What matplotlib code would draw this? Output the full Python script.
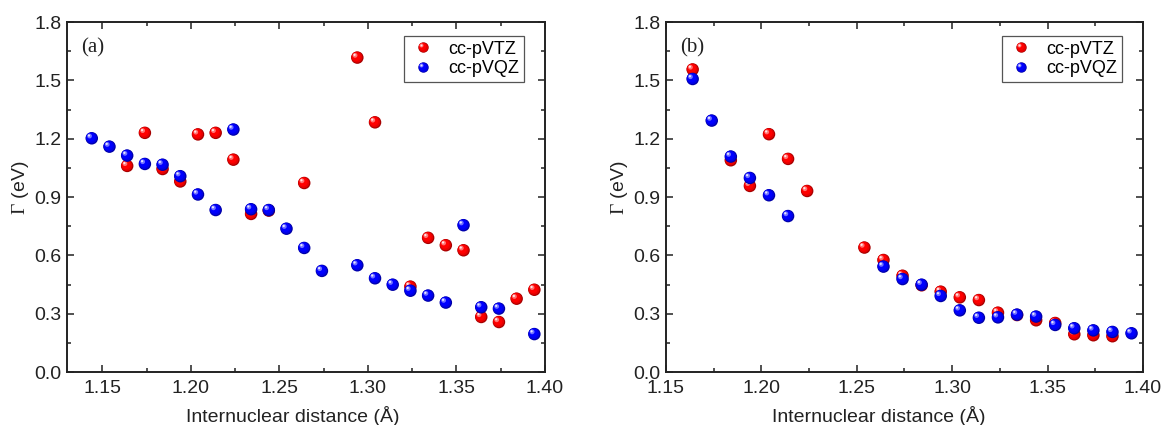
import numpy as np
import matplotlib
matplotlib.use("Agg")
import matplotlib.pyplot as plt
from matplotlib.lines import Line2D
from matplotlib.legend_handler import HandlerBase
from matplotlib.transforms import offset_copy
from matplotlib.ticker import MultipleLocator
import matplotlib.colors as mcolors

plt.rcParams['font.family'] = ['Liberation Sans', 'DejaVu Sans']
plt.rcParams['mathtext.fontset'] = 'custom'
plt.rcParams['mathtext.rm'] = 'Liberation Serif'
plt.rcParams['mathtext.it'] = 'Liberation Serif:italic'

# ---------------- data ----------------
# Panel (a)
a_vtz_x = [1.164, 1.174, 1.184, 1.194, 1.204, 1.214, 1.224, 1.234, 1.244, 1.264,
           1.294, 1.304, 1.324, 1.334, 1.344, 1.354, 1.364, 1.374, 1.384, 1.394]
a_vtz_y = [1.060, 1.230, 1.044, 0.980, 1.222, 1.230, 1.092, 0.813, 0.830, 0.972,
           1.617, 1.284, 0.439, 0.690, 0.652, 0.626, 0.283, 0.257, 0.377, 0.423]
a_vqz_x = [1.144, 1.154, 1.164, 1.174, 1.184, 1.194, 1.204, 1.214, 1.224, 1.234,
           1.244, 1.254, 1.264, 1.274, 1.294, 1.304, 1.314, 1.324, 1.334, 1.344,
           1.354, 1.364, 1.374, 1.394]
a_vqz_y = [1.202, 1.159, 1.113, 1.070, 1.066, 1.007, 0.913, 0.833, 1.247, 0.837,
           0.833, 0.737, 0.638, 0.520, 0.549, 0.482, 0.449, 0.418, 0.393, 0.357,
           0.755, 0.333, 0.326, 0.195]

# Panel (b)
b_vtz_x = [1.164, 1.184, 1.194, 1.204, 1.214, 1.224, 1.254, 1.264, 1.274, 1.284,
           1.294, 1.304, 1.314, 1.324, 1.334, 1.344, 1.354, 1.364, 1.374, 1.384]
b_vtz_y = [1.556, 1.089, 0.957, 1.223, 1.096, 0.931, 0.640, 0.576, 0.495, 0.446,
           0.413, 0.384, 0.370, 0.305, 0.293, 0.266, 0.252, 0.194, 0.189, 0.184]
b_vqz_x = [1.164, 1.174, 1.184, 1.194, 1.204, 1.214, 1.264, 1.274, 1.284, 1.294,
           1.304, 1.314, 1.324, 1.334, 1.344, 1.354, 1.364, 1.374, 1.384, 1.394]
b_vqz_y = [1.507, 1.293, 1.108, 0.998, 0.909, 0.802, 0.542, 0.478, 0.449, 0.391,
           0.317, 0.279, 0.281, 0.295, 0.285, 0.242, 0.225, 0.214, 0.206, 0.199]

series_labels = ['cc-pVTZ', 'cc-pVQZ']
series_colors = ['#ff0000', '#0000ff']
panel_labels = ['(a)', '(b)']
x_ticks = [1.15, 1.20, 1.25, 1.30, 1.35, 1.40]
y_ticks = [0.0, 0.3, 0.6, 0.9, 1.2, 1.5, 1.8]


def mix(c, w, f):
    c = np.array(mcolors.to_rgb(c))
    w = np.array(mcolors.to_rgb(w))
    return tuple(c * (1 - f) + w * f)


# layers: (diameter fraction, offset x pt, offset y pt, colour)
def sphere_layers(color):
    return [
        (1.00, 0.0, 0.0, mix(color, 'black', 0.35)),
        (0.88, -0.3, 0.3, mix(color, 'black', 0.10)),
        (0.70, -0.7, 0.7, color),
        (0.38, -1.6, 1.6, mix(color, 'white', 0.45)),
        (0.18, -2.0, 2.0, mix(color, 'white', 0.9)),
    ]


def sphere_scatter(ax, x, y, color, diam=9.0, zorder=3):
    fig = ax.figure
    for frac, dx, dy, col in sphere_layers(color):
        tr = offset_copy(ax.transData, fig=fig, x=dx * diam / 9.0, y=dy * diam / 9.0, units='points')
        ax.scatter(x, y, s=(diam * frac) ** 2, color=col, edgecolors='none',
                   transform=tr, zorder=zorder, clip_on=True)


class SphereHandler(HandlerBase):
    def __init__(self, color, diam=7.5):
        super().__init__()
        self.color = color
        self.diam = diam

    def create_artists(self, legend, orig_handle, xdescent, ydescent, width, height, fontsize, trans):
        cx = 0.5 * width - xdescent
        cy = 0.5 * height - ydescent
        arts = []
        s = self.diam / 9.0
        for frac, dx, dy, col in sphere_layers(self.color):
            l = Line2D([cx + dx * s], [cy + dy * s], marker='o', linestyle='none',
                       markersize=self.diam * frac, markerfacecolor=col,
                       markeredgecolor='none', transform=trans)
            arts.append(l)
        return arts


fig = plt.figure(figsize=(11.61, 4.25), dpi=100)
ax_a = fig.add_axes([0.0577, 0.1247, 0.4117, 0.8235])
ax_b = fig.add_axes([0.5736, 0.1247, 0.4109, 0.8235])

panels = [
    (ax_a, a_vtz_x, a_vtz_y, a_vqz_x, a_vqz_y, (1.13, 1.40), 0.472),
    (ax_b, b_vtz_x, b_vtz_y, b_vqz_x, b_vqz_y, (1.15, 1.40), 0.447),
]

for i, (ax, tx, ty, qx, qy, xl, xlab_x) in enumerate(panels):
    sphere_scatter(ax, tx, ty, series_colors[0], zorder=3)
    sphere_scatter(ax, qx, qy, series_colors[1], zorder=4)
    ax.set_xlim(*xl)
    ax.set_ylim(0.0, 1.8)
    ax.set_xticks(x_ticks)
    ax.set_xticklabels([f'{v:.2f}' for v in x_ticks])
    ax.set_yticks(y_ticks)
    ax.set_yticklabels([f'{v:.1f}' for v in y_ticks])
    ax.xaxis.set_minor_locator(MultipleLocator(0.025))
    ax.yaxis.set_minor_locator(MultipleLocator(0.15))
    ax.tick_params(which='both', direction='in', top=True, right=True,
                   labelsize=14, colors='#222222', width=1.1)
    ax.tick_params(axis='y', which='both', pad=4)
    ax.tick_params(axis='x', which='both', pad=6)
    ax.tick_params(which='major', length=5)
    ax.tick_params(which='minor', length=3)
    for sp in ax.spines.values():
        sp.set_linewidth(1.4)
        sp.set_color('#222222')
    ax.set_xlabel('Internuclear distance (Å)', fontsize=14, color='#222222')
    ax.set_ylabel(r'$\Gamma$ (eV)', fontsize=14, color='#222222')
    ax.xaxis.set_label_coords(xlab_x, -0.098)
    ax.yaxis.set_label_coords(-0.075, 0.525)
    ax.text(0.03, 0.955, panel_labels[i], transform=ax.transAxes, ha='left', va='top',
            fontsize=15, family='Liberation Serif', color='#222222')
    h1 = Line2D([], [], linestyle='none')
    h2 = Line2D([], [], linestyle='none')
    leg = ax.legend([h1, h2], series_labels, loc='upper right',
                    bbox_to_anchor=(0.956, 0.96), fontsize=13, frameon=True,
                    fancybox=False, edgecolor='#555555', framealpha=1,
                    handler_map={h1: SphereHandler(series_colors[0]),
                                 h2: SphereHandler(series_colors[1])},
                    handlelength=1.6, handletextpad=0.6, borderpad=0.25,
                    labelspacing=0.15, borderaxespad=0.0)
    leg.get_frame().set_linewidth(0.9)

fig.savefig('out.png', dpi=100)
